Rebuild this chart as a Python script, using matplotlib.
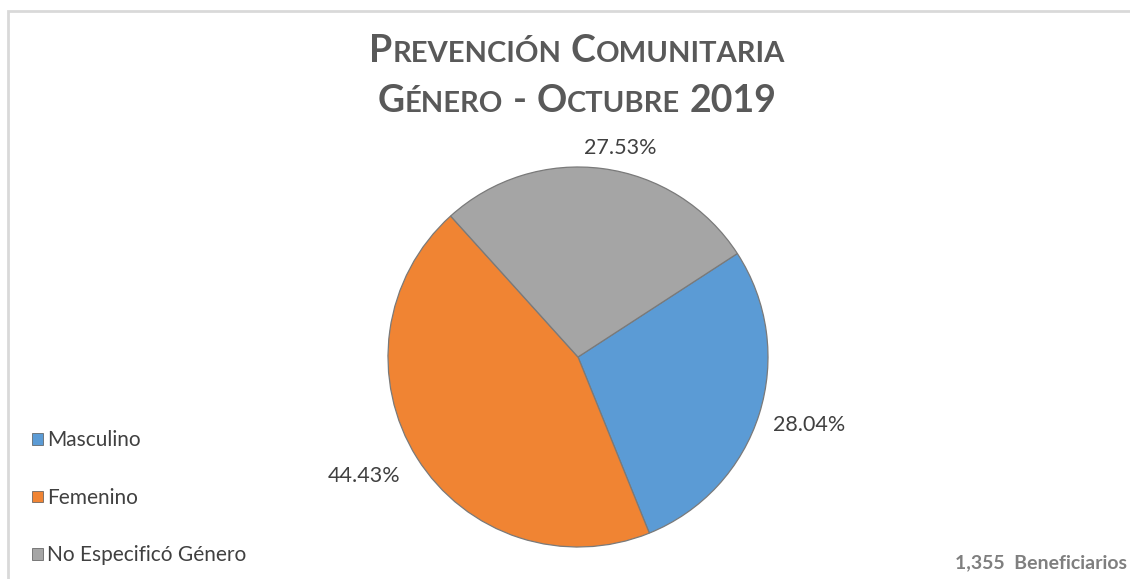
import numpy as np
import matplotlib.pyplot as plt
from matplotlib.patches import Rectangle, Patch

plt.rcParams['font.family'] = ['Lato', 'DejaVu Sans']

# data
categories = ['Masculino', 'Femenino', 'No Especificó Género']
counts = [380, 602, 373]
pct_labels = ['28.04%', '44.43%', '27.53%']
colors = ['#5B9BD5', '#F08433', '#A5A5A5']
total_label = '1,355  Beneficiarios'
title_lines = ['Prevención Comunitaria', 'Género - Octubre 2019']

W, H = 1130, 579
fig = plt.figure(figsize=(W / 100, H / 100), dpi=100)

# light chart border (cut by the right and bottom edges)
fig.patches.append(Rectangle((8 / W, -0.1), 1.2, (H - 11) / H + 0.1,
                             transform=fig.transFigure, fill=False,
                             edgecolor='#d9d9d9', linewidth=2))

# pie axes: centre (578, 357), radius 190 px
cx, cy, r = 578, 357, 190
ax = fig.add_axes([(cx - r) / W, (H - cy - r) / H, 2 * r / W, 2 * r / H])
wedges, _ = ax.pie(counts, colors=colors, startangle=33, counterclock=False,
                   radius=1.0, wedgeprops=dict(edgecolor='#7a7a7a', linewidth=0.9))
ax.set_xlim(-1, 1)
ax.set_ylim(-1, 1)
ax.set_aspect('equal')

# percentage labels outside, best-fit style (distance, angle nudge)
label_dist = [1.27, 1.29, 1.12]
label_nudge = [1.0, -3.0, -4.0]
for w, lab, d, n in zip(wedges, pct_labels, label_dist, label_nudge):
    ang = np.deg2rad((w.theta1 + w.theta2) / 2 + n)
    ax.text(d * np.cos(ang), d * np.sin(ang), lab, ha='center', va='center',
            fontsize=15.5, color='#404040', clip_on=False)

# small-caps title, drawn piece by piece
renderer = fig.canvas.get_renderer()
big, small = 27, 21
baselines = [H - 62, H - 112]
for line, base in zip(title_lines, baselines):
    pieces = []
    for word in line.split(' '):
        if word[0].isalpha():
            pieces.append((word[0].upper(), big))
            if len(word) > 1:
                pieces.append((word[1:].upper(), small))
        else:
            pieces.append((word, big))
        pieces.append((' ', big))
    pieces = pieces[:-1]
    texts = []
    for s, fs in pieces:
        t = fig.text(0, base / H, s, fontsize=fs, fontweight='bold',
                     color='#595959', va='baseline', ha='left')
        texts.append(t)
    widths = []
    for t in texts:
        if t.get_text() == ' ':
            widths.append(t.get_fontsize() * 0.35)
        else:
            widths.append(t.get_window_extent(renderer).width)
    x = 577 - sum(widths) / 2
    for t, wd in zip(texts, widths):
        t.set_x(x / W)
        x += wd

# legend
handles = [Patch(facecolor=c, edgecolor='#555555', linewidth=0.5) for c in colors]
fig.legend(handles, categories, loc='upper left', bbox_to_anchor=(22 / W, 1 - 420 / H),
           frameon=False, fontsize=15, handlelength=0.5, handleheight=0.5,
           handletextpad=0.2, labelspacing=1.8, labelcolor='#404040', borderpad=0)

fig.text(955 / W, 1 - 563 / H, total_label, fontsize=14, fontweight='bold',
         color='#7f7f7f', va='center', ha='left')

fig.savefig('out.png', dpi=100)
